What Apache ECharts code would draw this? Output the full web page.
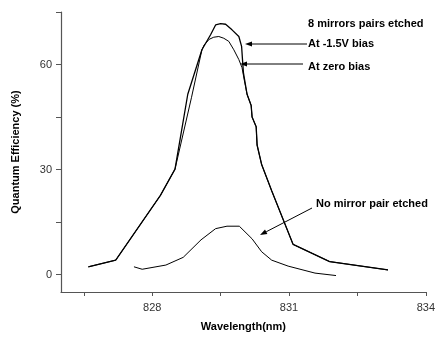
<!DOCTYPE html>
<html>
<head>
<meta charset="utf-8">
<script src="https://cdn.jsdelivr.net/npm/echarts@6/dist/echarts.min.js"></script>
<style>
html, body { margin: 0; padding: 0; background: #fff; }
#chart { width: 438px; height: 337px; }
</style>
</head>
<body>
<div id="chart"></div>
<script>
// -1.5V bias, 8 mirror pairs etched
var biasWl = [826.6, 827.2, 828.18, 828.5, 828.78, 829.09, 829.28, 829.39, 829.5, 829.61, 829.75, 829.9, 829.96, 829.98, 830.0, 830.08, 830.17, 830.19, 830.28, 830.3, 830.4, 830.62, 831.09, 831.89, 833.17];
var biasQe = [2.2, 4.1, 22.6, 30.1, 51.5, 64.2, 68.5, 71.3, 71.7, 71.5, 69.9, 68.0, 65.2, 61.4, 57.7, 51.5, 48.3, 45.0, 42.2, 37.0, 31.4, 23.9, 8.6, 3.7, 1.3];

// zero bias, 8 mirror pairs etched
var zeroWl = [826.6, 827.2, 828.18, 828.5, 828.86, 829.09, 829.14, 829.25, 829.35, 829.46, 829.57, 829.68, 829.79, 829.9, 829.97, 830.02, 830.08, 830.17, 830.19, 830.28, 830.3, 830.4, 830.62, 831.09, 831.89, 833.17];
var zeroQe = [2.2, 4.1, 22.6, 30.1, 50.5, 64.2, 65.6, 67.2, 67.8, 68.0, 67.5, 66.6, 64.2, 61.4, 59.1, 55.5, 51.5, 48.3, 45.0, 42.2, 37.0, 31.4, 23.9, 8.6, 3.7, 1.3];

// no mirror pair etched
var noMirWl = [827.6, 827.78, 828.3, 828.68, 829.07, 829.39, 829.64, 829.91, 830.19, 830.4, 830.62, 830.98, 831.57, 832.03];
var noMirQe = [2.2, 1.5, 2.7, 4.9, 9.9, 13.1, 13.8, 13.8, 10.2, 6.5, 4.1, 2.4, 0.4, -0.3];

var xTicks = [826.5, 828, 829.5, 831, 832.5, 834];
var xLabels = [828, 831, 834];
var yTicks = [0, 15, 30, 45, 60, 75];
var yLabels = [0, 30, 60];

function zip(a, b) {
    var out = [];
    for (var i = 0; i < a.length; i++) out.push([a[i], b[i]]);
    return out;
}

function arrow(x1, y1, x2, y2) {
    // line from (x1,y1) with head at (x2,y2)
    var ang = Math.atan2(y2 - y1, x2 - x1);
    var L = 7, W = 2.6;
    var bx = x2 - L * Math.cos(ang), by = y2 - L * Math.sin(ang);
    var px = -Math.sin(ang) * W, py = Math.cos(ang) * W;
    return [
        { type: 'line', shape: { x1: x1, y1: y1, x2: bx, y2: by }, style: { stroke: '#000', lineWidth: 1 } },
        { type: 'polygon', shape: { points: [[x2, y2], [bx + px, by + py], [bx - px, by - py]] }, style: { fill: '#000' } }
    ];
}

function label(text, x, y) {
    return {
        type: 'text', x: x, y: y,
        style: { text: text, fill: '#000', font: 'bold 11px "Liberation Sans", Arial, sans-serif', textVerticalAlign: 'middle' }
    };
}

var myChart = echarts.init(document.getElementById('chart'));

var option = {
    animation: false,
    grid: { left: 61, top: 12, right: 10, bottom: 41 },
    xAxis: {
        type: 'value',
        min: 826,
        max: 834,
        name: 'Wavelength(nm)',
        nameLocation: 'middle',
        nameGap: 29,
        nameTextStyle: { fontFamily: 'Liberation Sans', fontWeight: 'bold', fontSize: 11, color: '#000' },
        axisLine: { onZero: false, lineStyle: { color: '#555', width: 1.2 } },
        axisTick: { customValues: xTicks, length: 4, lineStyle: { color: '#555' } },
        axisLabel: { customValues: xLabels, margin: 10, fontFamily: 'Liberation Sans', fontSize: 11, color: '#333' },
        splitLine: { show: false }
    },
    yAxis: {
        type: 'value',
        min: -5,
        max: 75,
        name: 'Quantum Efficiency (%)',
        nameLocation: 'middle',
        nameGap: 40,
        nameTextStyle: { fontFamily: 'Liberation Sans', fontWeight: 'bold', fontSize: 11, color: '#000' },
        axisLine: { show: true, onZero: false, lineStyle: { color: '#555', width: 1.2 } },
        axisTick: { show: true, customValues: yTicks, length: 5, lineStyle: { color: '#555' } },
        axisLabel: { customValues: yLabels, margin: 9, fontFamily: 'Liberation Sans', fontSize: 11, color: '#333' },
        splitLine: { show: false }
    },
    series: [
        {
            name: 'At -1.5V bias',
            type: 'line',
            showSymbol: false,
            symbol: 'none',
            lineStyle: { color: '#000', width: 1.3 },
            data: zip(biasWl, biasQe)
        },
        {
            name: 'At zero bias',
            type: 'line',
            showSymbol: false,
            symbol: 'none',
            lineStyle: { color: '#000', width: 1 },
            data: zip(zeroWl, zeroQe)
        },
        {
            name: 'No mirror pair etched',
            type: 'line',
            showSymbol: false,
            symbol: 'none',
            lineStyle: { color: '#000', width: 1 },
            data: zip(noMirWl, noMirQe)
        }
    ],
    graphic: [
        label('8 mirrors pairs etched', 308, 24),
        label('At -1.5V bias', 308, 44),
        label('At zero bias', 308, 67),
        label('No mirror pair etched', 316, 204)
    ]
        .concat(arrow(307, 44, 245, 44))
        .concat(arrow(303, 64, 240, 64))
        .concat(arrow(312, 208, 260, 235))
};

myChart.setOption(option);
</script>
</body>
</html>
